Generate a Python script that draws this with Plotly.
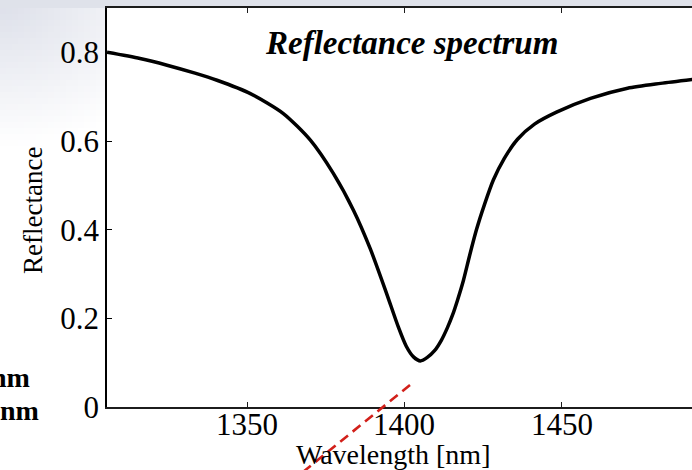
import math
import plotly.graph_objects as go

# Reflectance spectrum of the resonant structure
wavelength_nm = [1305.4, 1315.9, 1324.5, 1333.4, 1340.4, 1351.0, 1361.5, 1370.1,
                 1377.4, 1383.8, 1389.2, 1394.3, 1398.1, 1400.6, 1402.9, 1405.1,
                 1407.3, 1409.6, 1411.8, 1413.7, 1415.3, 1416.9, 1418.8, 1420.7,
                 1422.9, 1425.5, 1428.3, 1431.8, 1436.0, 1441.4, 1448.4, 1459.2,
                 1471.0, 1481.5, 1491.7]
reflectance = [0.800, 0.786, 0.771, 0.753, 0.737, 0.707, 0.662, 0.602,
               0.527, 0.444, 0.356, 0.257, 0.180, 0.137, 0.113, 0.104,
               0.112, 0.127, 0.151, 0.179, 0.207, 0.241, 0.286, 0.340,
               0.399, 0.457, 0.512, 0.561, 0.604, 0.638, 0.665, 0.696,
               0.719, 0.730, 0.739]

x_tick_vals = [1350, 1400, 1450]
x_tick_text = ["1350", "1400", "1450"]
y_tick_vals = [0, 0.2, 0.4, 0.6, 0.8]
y_tick_text = ["0", "0.2", "0.4", "0.6", "0.8"]

W, H = 692, 470
L, R, T, B = 107, 0, 8, 63
PW, PH = W - L - R, H - T - B


def px(x):
    return (x - L) / PW


def py(y):
    return (H - B - y) / PH


SERIF = "Liberation Serif, Times New Roman, serif"

fig = go.Figure()
fig.add_trace(go.Scatter(
    x=wavelength_nm, y=reflectance, mode="lines",
    line=dict(color="black", width=3.5, shape="spline", smoothing=0.7),
    hoverinfo="skip", showlegend=False,
))

shapes = []
# slide backdrop: grey band along the top and a soft fade in the upper-left corner
base = (220, 223, 233)
shapes.append(dict(type="rect", xref="paper", yref="paper", layer="below",
                   x0=px(0), x1=px(W), y0=py(T), y1=py(0),
                   fillcolor="rgb(223,226,234)", line=dict(width=0)))
step = 6
for gy in range(T, 170, step):
    for gx in range(0, L, step):
        cx, cy = gx + step / 2, gy + step / 2
        t = min(1.0, math.hypot(cx / 189.0, cy / 147.0))
        if t >= 1.0:
            continue
        c = tuple(round(b + (255 - b) * t) for b in base)
        shapes.append(dict(type="rect", xref="paper", yref="paper", layer="below",
                           x0=px(gx), x1=px(min(gx + step, L)),
                           y0=py(gy + step), y1=py(gy),
                           fillcolor="rgb(%d,%d,%d)" % c, line=dict(width=0)))

# red dashed pointer crossing the axis
shapes.append(dict(type="line", xref="paper", yref="paper", layer="above",
                   x0=px(303), y0=py(472), x1=px(410), y1=py(385),
                   line=dict(color="#d2201a", width=2.6, dash="10px,6px")))

annotations = [
    dict(text="Reflectance spectrum", x=px(411), y=py(43), xref="paper", yref="paper",
         showarrow=False, xanchor="center", yanchor="middle",
         font=dict(family=SERIF, size=33, color="black", style="italic", weight="bold")),
    dict(text="Wavelength [nm]", x=px(393), y=py(454), xref="paper", yref="paper",
         showarrow=False, xanchor="center", yanchor="middle",
         font=dict(family=SERIF, size=28, color="black")),
    dict(text="Reflectance", x=px(33), y=py(211), xref="paper", yref="paper",
         showarrow=False, xanchor="center", yanchor="middle", textangle=-90,
         font=dict(family=SERIF, size=27, color="black")),
    dict(text="nm", x=px(32), y=py(377), xref="paper", yref="paper",
         showarrow=False, xanchor="right", yanchor="middle",
         font=dict(family=SERIF, size=28, color="black", weight="bold")),
    dict(text="nm", x=px(41), y=py(410), xref="paper", yref="paper",
         showarrow=False, xanchor="right", yanchor="middle",
         font=dict(family=SERIF, size=28, color="black", weight="bold")),
]

# wavelength tick labels sit close under the axis line
for v, s in zip(x_tick_vals, x_tick_text):
    annotations.append(dict(text=s, x=v, xref="x", y=py(424), yref="paper",
                            showarrow=False, xanchor="center", yanchor="middle",
                            font=dict(family=SERIF, size=31, color="black")))

fig.update_layout(
    width=W, height=H,
    margin=dict(l=L, r=R, t=T, b=B, pad=0),
    paper_bgcolor="white", plot_bgcolor="white",
    shapes=shapes, annotations=annotations,
    xaxis=dict(
        range=[1305.4, 1491.5], showgrid=False, zeroline=False,
        showline=True, linecolor="#1c1c1c", linewidth=2, mirror="ticks",
        ticks="inside", ticklen=5, tickwidth=1, tickcolor="#1c1c1c",
        tickvals=x_tick_vals, showticklabels=False,
    ),
    yaxis=dict(
        range=[0, 0.9], showgrid=False, zeroline=False,
        showline=True, linecolor="black", linewidth=1.5, mirror=False,
        ticks="inside", ticklen=5, tickwidth=1, tickcolor="black",
        tickvals=y_tick_vals, ticktext=y_tick_text, ticklabelstandoff=0,
        tickfont=dict(family=SERIF, size=31, color="black"),
    ),
)

fig.write_html("out.html")
